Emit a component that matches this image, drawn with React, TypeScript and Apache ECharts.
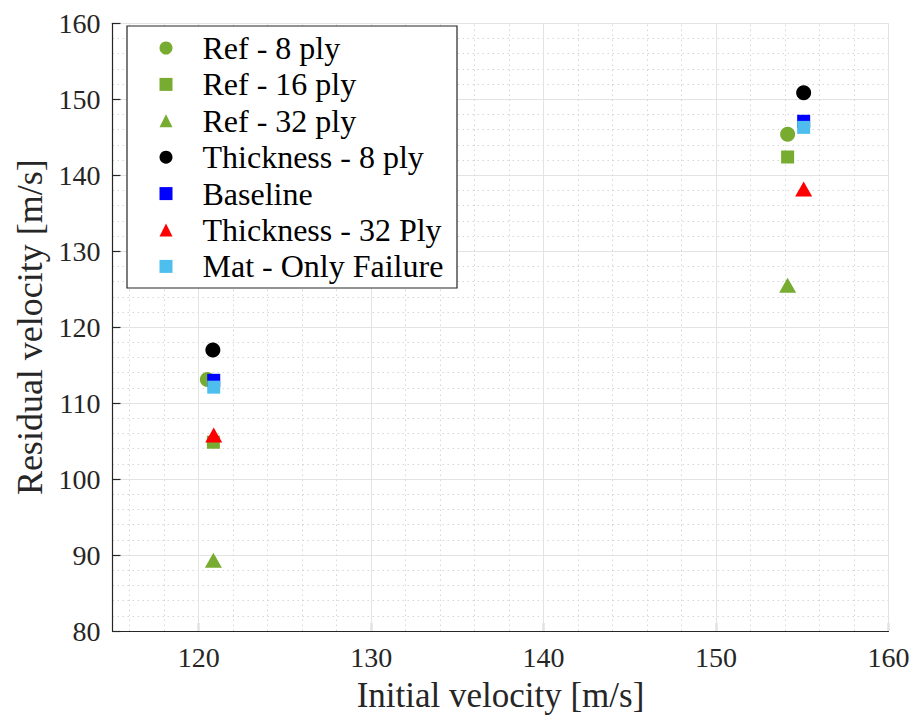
import React, { useEffect, useRef } from "react";
import * as echarts from "echarts";

const seriesNames = [
  "Ref - 8 ply",
  "Ref - 16 ply",
  "Ref - 32 ply",
  "Thickness - 8 ply",
  "Baseline",
  "Thickness - 32 Ply",
  "Mat - Only Failure",
];
const ref8: number[][] = [[120.5, 113.1], [154.15, 145.4]];
const ref16: number[][] = [[120.85, 104.85], [154.15, 142.4]];
const ref32: number[][] = [[120.85, 89.3], [154.15, 125.5]];
const thick8: number[][] = [[120.82, 117.0], [155.08, 150.85]];
const baseline: number[][] = [[120.87, 113.0], [155.08, 147.1]];
const thick32: number[][] = [[120.87, 105.8], [155.08, 138.2]];
const matOnly: number[][] = [[120.87, 112.1], [155.08, 146.3]];

const xTicks = [120, 130, 140, 150, 160];
const xMinor = [116, 118, 122, 124, 126, 128, 132, 134, 136, 138, 142, 144, 146, 148, 152, 154, 156, 158];

const FONT = "'Liberation Serif', 'Times New Roman', serif";
const TXT = "#262626";
const GREEN = "#77AC30";
const symbols = ["circle", "rect", "triangle", "circle", "rect", "triangle", "rect"];
const colors = [GREEN, GREEN, GREEN, "#000000", "#0000ff", "#ff0000", "#4dbeee"];

export default function App() {
  const ref = useRef<HTMLDivElement>(null);
  useEffect(() => {
    if (!ref.current) return;
    const chart = echarts.init(ref.current, undefined, { renderer: "svg" });
    const mk = (i: number, data: number[][]) => ({
      name: seriesNames[i],
      type: "scatter",
      data,
      symbol: symbols[i],
      symbolSize: symbols[i] === "triangle" ? [17, 15] : symbols[i] === "circle" ? 15 : 13,
      itemStyle: { color: colors[i], opacity: 1, borderWidth: 0 },
      emphasis: { disabled: true },
      z: 3,
    });
    chart.setOption({
      animation: false,
      backgroundColor: "#ffffff",
      textStyle: { fontFamily: FONT },
      grid: { left: 112.5, right: 26.5, top: 23.3, bottom: 86.3, containLabel: false },
      xAxis: {
        type: "value",
        min: 115,
        max: 160,
        name: "Initial velocity [m/s]",
        nameLocation: "middle",
        nameGap: 47,
        nameTextStyle: { fontFamily: FONT, fontSize: 35, color: TXT },
        axisLine: { show: true, onZero: false, lineStyle: { color: TXT, width: 1.2 } },
        axisTick: { show: true, inside: true, length: 8, customValues: xTicks, lineStyle: { color: TXT, width: 1.2 } },
        axisLabel: { customValues: xTicks, margin: 12, fontFamily: FONT, fontSize: 28, color: TXT },
        splitLine: { show: false },
      },
      yAxis: {
        type: "value",
        min: 80,
        max: 160,
        interval: 10,
        name: "Residual velocity [m/s]",
        nameLocation: "middle",
        nameGap: 64,
        nameTextStyle: { fontFamily: FONT, fontSize: 36, color: TXT },
        axisLine: { show: true, onZero: false, lineStyle: { color: TXT, width: 1.2 } },
        axisTick: { show: true, inside: true, length: 8, lineStyle: { color: TXT, width: 1.2 } },
        axisLabel: { margin: 12, fontFamily: FONT, fontSize: 28, color: TXT },
        splitLine: { show: true, lineStyle: { color: "#e3e3e3", width: 1 } },
        minorTick: { show: false, splitNumber: 5 },
        minorSplitLine: { show: true, lineStyle: { color: "#d6d6d6", width: 1, type: [1.5, 3.5] } },
      },
      legend: {
        orient: "vertical",
        left: 159.5,
        top: 30,
        padding: 0,
        itemGap: 0.4,
        itemWidth: 13,
        itemHeight: 13,
        z: 12,
        data: seriesNames.map((n, i) => ({
          name: n,
          icon: symbols[i],
          itemStyle: { color: colors[i], borderWidth: 0 },
        })),
        textStyle: { fontFamily: FONT, fontSize: 32, color: "#000000", lineHeight: 36, padding: [0, 0, 0, 25] },
        selectedMode: false,
      },
      graphic: [
        {
          type: "rect",
          z: 11,
          shape: { x: 127, y: 26, width: 330, height: 262 },
          style: { fill: "#ffffff", stroke: TXT, lineWidth: 1.2 },
        },
      ],
      series: [
        {
          type: "scatter",
          data: [],
          silent: true,
          z: 1,
          markLine: {
            z: 1,
            silent: true,
            symbol: "none",
            label: { show: false },
            animation: false,
            data: [
              ...xMinor.map((v) => ({ xAxis: v, lineStyle: { color: "#d6d6d6", width: 1, type: [1.5, 3.5] } })),
              ...xTicks.map((v) => ({ xAxis: v, lineStyle: { color: "#e3e3e3", width: 1, type: "solid" } })),
            ],
          },
        },
        mk(0, ref8),
        mk(1, ref16),
        mk(2, ref32),
        mk(3, thick8),
        mk(4, baseline),
        mk(5, thick32),
        mk(6, matOnly),
      ],
    });
    return () => chart.dispose();
  }, []);
  return <div ref={ref} style={{ width: 915, height: 718, position: "absolute", left: 0, top: 0 }} />;
}
